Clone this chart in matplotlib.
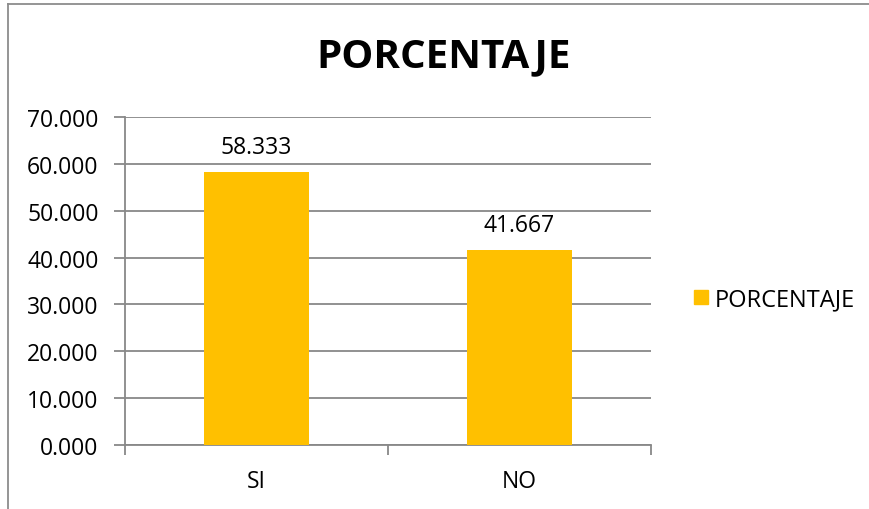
import matplotlib.pyplot as plt
from matplotlib.lines import Line2D

plt.rcParams['font.family'] = ['Open Sans', 'DejaVu Sans']

categories = ['SI', 'NO']
values = [58.333, 41.667]
series_name = 'PORCENTAJE'
y_ticks = [0, 10, 20, 30, 40, 50, 60, 70]

W, H = 869, 510
fig = plt.figure(figsize=(W / 100, H / 100), dpi=100)

# plot area in pixel coords: x 125-651, y 118-446
ax = fig.add_axes([125 / W, 1 - 446 / H, (651 - 125) / W, (446 - 118) / H])

grid_color = '#888888'
bars = ax.bar(range(len(categories)), values, width=0.4, color='#FFC000',
              label=series_name, zorder=3)

ax.set_xlim(-0.5, len(categories) - 0.5)
ax.set_ylim(0, 70)
ax.set_yticks(y_ticks)
ax.set_yticklabels([f'{v:.3f}' for v in y_ticks], fontsize=16.5)
ax.yaxis.grid(True, color=grid_color, linewidth=1.3, zorder=0)

ax.set_xticks(range(len(categories)))
ax.set_xticklabels(categories, fontsize=16.5)
ax.set_xticks([i - 0.5 for i in range(len(categories) + 1)], minor=True)
ax.tick_params(axis='x', which='major', length=0, pad=17)
ax.tick_params(axis='x', which='minor', length=7, width=1.3, color=grid_color)
ax.tick_params(axis='y', length=8, width=1.3, color=grid_color, pad=11)

for s in ['top', 'right']:
    ax.spines[s].set_visible(False)
for s in ['left', 'bottom']:
    ax.spines[s].set_color(grid_color)
    ax.spines[s].set_linewidth(1.3)

for b, v in zip(bars, values):
    ax.annotate(f'{v:.3f}', (b.get_x() + b.get_width() / 2, v),
                xytext=(0, 9), textcoords='offset points',
                ha='center', va='bottom', fontsize=16.5)

fig.text(444 / W, 1 - 57 / H, series_name, fontsize=29, fontweight='bold',
         ha='center', va='center')

handle = Line2D([], [], marker='s', linestyle='none', markersize=10,
                markerfacecolor='#FFC000', markeredgecolor='#FFC000')
fig.legend([handle], [series_name], loc='center left',
           bbox_to_anchor=(668 / W, 1 - 300 / H), frameon=False,
           fontsize=17, handletextpad=0.1, handlelength=1.0)

# chart area border (left and top)
fig.add_artist(Line2D([8 / W, 8 / W], [0, 1 - 5 / H], transform=fig.transFigure,
                      color='#8c8c8c', linewidth=1.3))
fig.add_artist(Line2D([8 / W, 1], [1 - 5 / H, 1 - 5 / H], transform=fig.transFigure,
                      color='#8c8c8c', linewidth=1.3))

fig.savefig('out.png', dpi=100)
